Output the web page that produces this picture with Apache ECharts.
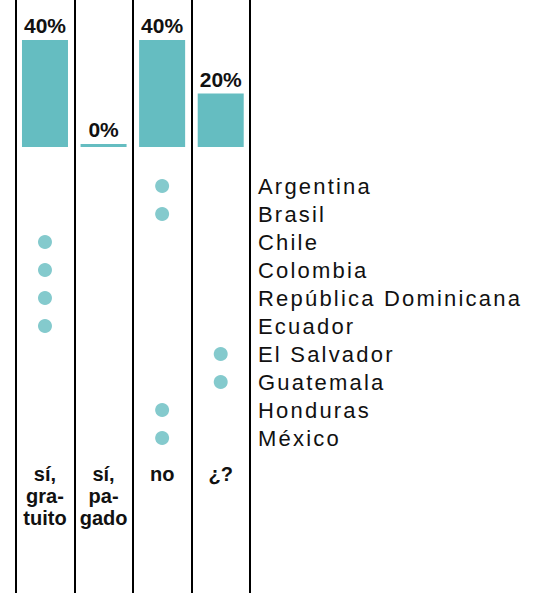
<!DOCTYPE html>
<html>
<head>
<meta charset="utf-8">
<script src="https://cdn.jsdelivr.net/npm/echarts@6/dist/echarts.min.js"></script>
<style>
  html, body { margin: 0; padding: 0; background: #fff; }
  #chart { width: 544px; height: 593px; }
  #chart svg text { letter-spacing: 2.2px; }
  #chart svg text[style*="bold"], #chart svg text[font-weight="bold"] { letter-spacing: 0; }
</style>
</head>
<body>
<div id="chart"></div>
<script>
// ---- data ----
var answers = ['sí, gratuito', 'sí, pagado', 'no', '¿?'];
var answerLabels = ['sí,\ngra-\ntuito', 'sí,\npa-\ngado', 'no', '¿?'];
var shares = [40, 0, 40, 20];
var countries = ['Argentina', 'Brasil', 'Chile', 'Colombia', 'República Dominicana',
                 'Ecuador', 'El Salvador', 'Guatemala', 'Honduras', 'México'];
var countryAnswer = ['no', 'no', 'sí, gratuito', 'sí, gratuito', 'sí, gratuito',
                     'sí, gratuito', '¿?', '¿?', 'no', 'no'];

// ---- build ----
var TEAL = '#65bdc1';
var GL = 15.7, GW = 234.3;
var labelMap = {};
answers.forEach(function (a, i) { labelMap[a] = answerLabels[i]; });
var dots = countries.map(function (c, i) { return [countryAnswer[i], c]; });

var chart = echarts.init(document.getElementById('chart'), null, { renderer: 'svg' });
chart.setOption({
  animation: false,
  textStyle: { fontFamily: "'Liberation Sans', Arial, sans-serif" },
  grid: [
    { left: GL, width: GW, top: 0, bottom: 0 },
    { left: GL, width: GW, top: 40, height: 107 },
    { left: GL, width: GW, top: 172, height: 280 }
  ],
  xAxis: [
    { gridIndex: 0, type: 'category', data: answers, boundaryGap: true,
      axisLine: { show: false }, axisTick: { show: false }, axisLabel: { show: false },
      splitLine: { show: true, interval: 0, lineStyle: { color: '#000', width: 2 } } },
    { gridIndex: 1, type: 'category', data: answers, show: false },
    { gridIndex: 2, type: 'category', data: answers, position: 'bottom',
      axisLine: { show: false }, axisTick: { show: false }, splitLine: { show: false },
      axisLabel: { interval: 0, margin: 11, color: '#111', fontWeight: 'bold', fontSize: 20,
                   lineHeight: 22, verticalAlign: 'top',
                   formatter: function (v) { return labelMap[v]; } } }
  ],
  yAxis: [
    { gridIndex: 0, type: 'value', show: false, min: 0, max: 1 },
    { gridIndex: 1, type: 'value', show: false, min: 0, max: 40 },
    { gridIndex: 2, type: 'category', data: countries, inverse: true, position: 'right',
      axisLine: { show: false }, axisTick: { show: false }, splitLine: { show: false },
      axisLabel: { interval: 0, margin: 8, color: '#111', fontSize: 22, align: 'left' } }
  ],
  series: [
    { type: 'bar', xAxisIndex: 1, yAxisIndex: 1, data: shares, barWidth: 46, barMinHeight: 3,
      itemStyle: { color: TEAL },
      label: { show: true, position: 'top', distance: 4, formatter: '{c}%',
               fontWeight: 'bold', fontSize: 21, color: '#111' } },
    { type: 'scatter', xAxisIndex: 2, yAxisIndex: 2, data: dots, symbolSize: 14,
      itemStyle: { color: TEAL } }
  ]
});
</script>
</body>
</html>
